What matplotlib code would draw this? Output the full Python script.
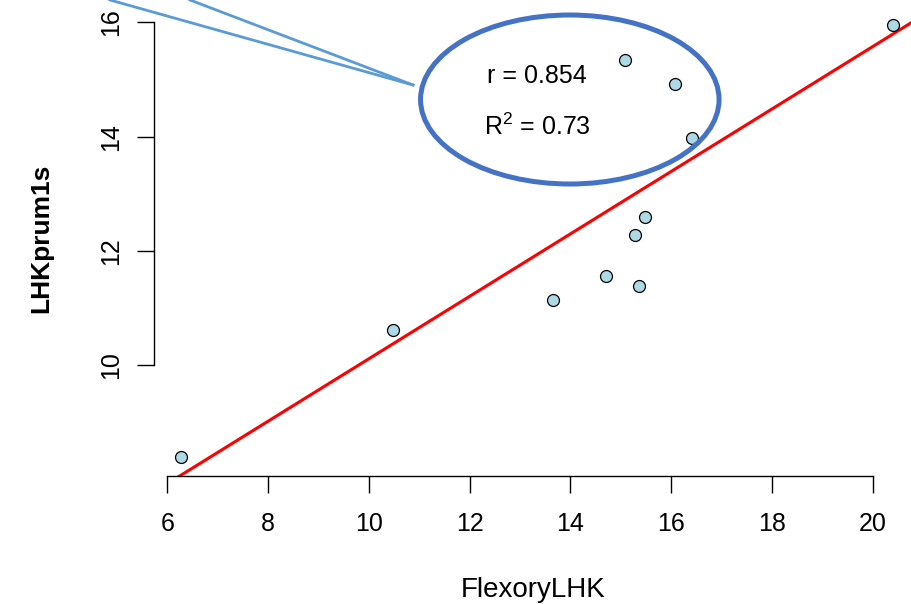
import matplotlib
matplotlib.use("Agg")
import matplotlib.pyplot as plt
from matplotlib.patches import Ellipse
from matplotlib.lines import Line2D
import numpy as np

plt.rcParams['font.family'] = ['Liberation Sans', 'DejaVu Sans']
plt.rcParams['mathtext.fontset'] = 'custom'
plt.rcParams['mathtext.rm'] = 'Liberation Sans'
plt.rcParams['mathtext.it'] = 'Liberation Sans'

# data
flexory_lhk = [6.28, 10.48, 13.65, 14.71, 15.35, 15.28, 15.48, 15.09, 16.07, 16.42, 20.39]
lhk_prum1s = [8.38, 10.62, 11.13, 11.55, 11.38, 12.28, 12.59, 15.34, 14.92, 13.97, 15.95]
x_ticks = [6, 8, 10, 12, 14, 16, 18, 20]
y_ticks = [10, 12, 14, 16]
r_text = "r = 0.854"
r2_text = r"R$^{2}$ = 0.73"

W, H = 912, 604
fig = plt.figure(figsize=(W / 100, H / 100), dpi=100)
ax = fig.add_axes([153.5 / W, (H - 475.7) / H, 1 - 153.5 / W, 475.7 / H])
ax.set_xlim(5.726, 20.776)
ax.set_ylim(8.061, 16.392)

# points and fitted line
ax.scatter(flexory_lhk, lhk_prum1s, s=8.6 ** 2, facecolor='#add8e6',
           edgecolor='black', linewidth=0.9, zorder=3)
slope, intercept = np.polyfit(flexory_lhk, lhk_prum1s, 1)
xx = np.array(ax.get_xlim())
ax.plot(xx, intercept + slope * xx, color='red', lw=2.2, zorder=2)

# R-like axes
for s in ['top', 'right']:
    ax.spines[s].set_visible(False)
ax.spines['bottom'].set_bounds(x_ticks[0], x_ticks[-1])
ax.spines['left'].set_bounds(y_ticks[0], y_ticks[-1])
for s in ['bottom', 'left']:
    ax.spines[s].set_linewidth(1.0)
ax.set_xticks(x_ticks)
ax.set_yticks(y_ticks)
ax.tick_params(axis='both', length=12, width=1.0, labelsize=18, colors='black')
ax.tick_params(axis='x', pad=14)
ax.tick_params(axis='y', pad=10)
for lab in ax.get_yticklabels():
    lab.set_rotation(90)
    lab.set_va('center')

ax.set_xlabel("FlexoryLHK", fontsize=20)
ax.xaxis.set_label_coords(0.5, -0.212)
ax.set_ylabel("LHKprum1s", fontsize=19, fontweight='bold')
ax.yaxis.set_label_coords(-0.132, 0.5)

# annotation: ellipse with callout lines (figure pixel coords)
def px(x, y):
    return x / W, 1 - y / H

ell = Ellipse(px(569.8, 99.5), 298.5 / W, 169 / H, transform=fig.transFigure,
              fill=False, edgecolor='#4472c4', lw=3.6, zorder=5)
fig.patches.append(ell)
for x0 in [110, 190]:
    p0, p1 = px(x0, 0), px(413, 85)
    fig.lines.append(Line2D([p0[0], p1[0]], [p0[1], p1[1]], transform=fig.transFigure,
                            color='#5b9bd5', lw=2.0))

fig.text(*px(537, 83), r_text, fontsize=18, ha='center', va='baseline')
fig.text(*px(537, 135), r2_text, fontsize=18, ha='center', va='baseline')

fig.savefig("out.png", dpi=100)
